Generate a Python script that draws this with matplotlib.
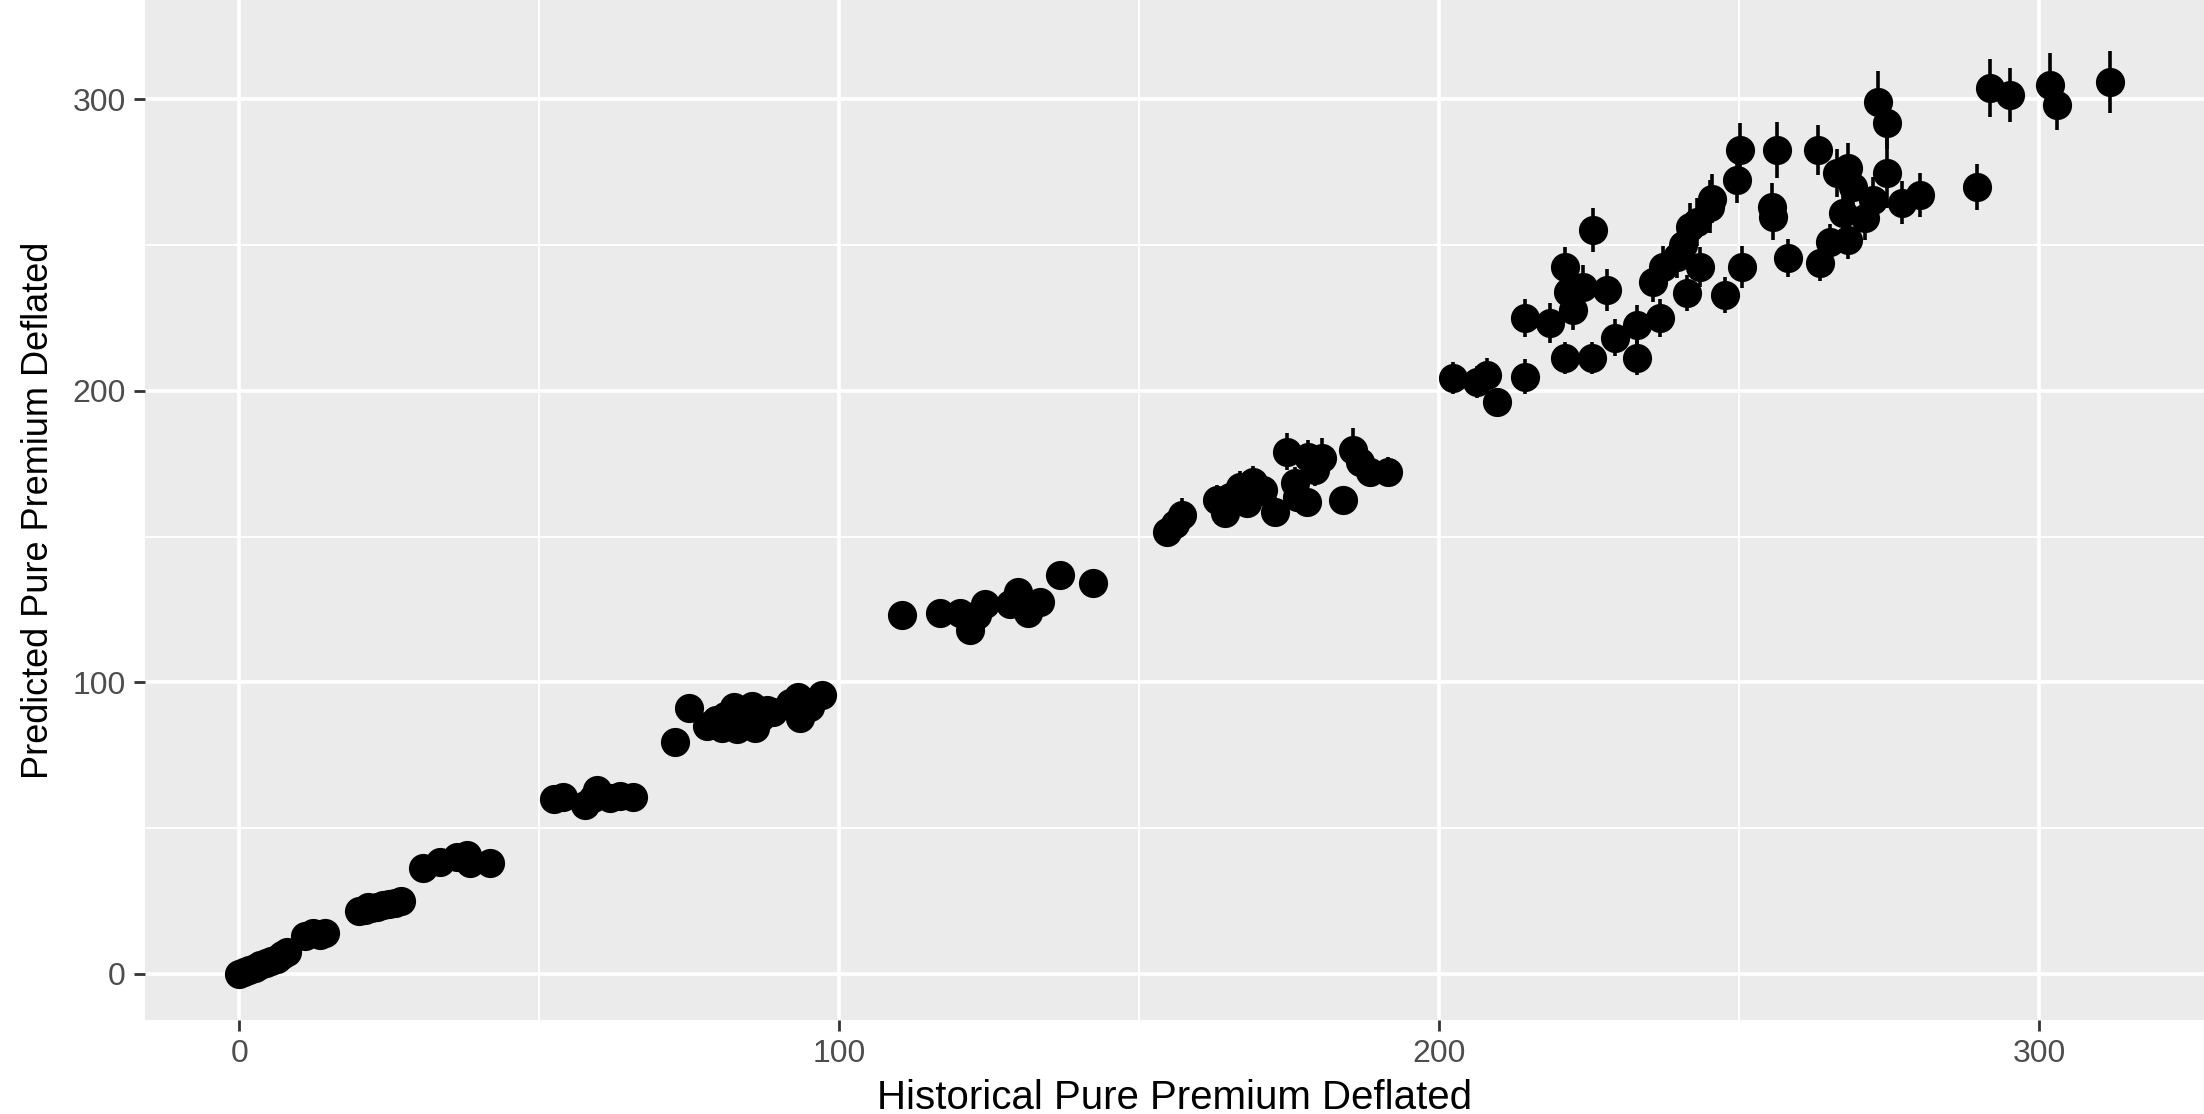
import matplotlib
matplotlib.use("Agg")
import matplotlib.pyplot as plt
from matplotlib.ticker import MultipleLocator

# Historical vs predicted pure premium (deflated), with prediction intervals
historical = [
    # 0-45
    0.0, 0.8, 1.7, 2.6, 3.5, 4.4, 5.3, 6.3, 7.2, 8.0,
    11.0, 12.3, 14.3, 13.5,
    20.0, 21.0, 22.0, 23.0, 24.0, 25.0, 26.0, 27.0, 21.5,
    30.7, 33.5, 36.3, 38.0, 38.5, 41.8,
    # 50-70
    52.4, 54.0, 57.7, 59.7, 59.0, 61.8, 63.5, 65.7,
    # 72-98
    72.7, 75.0, 78.0, 79.5, 80.5, 81.0, 82.0, 82.5, 83.0, 84.0, 85.0, 85.5,
    86.0, 87.0, 88.0, 89.0, 91.8, 93.2, 93.5, 95.2, 97.2,
    # 110-143
    110.5, 116.8, 120.2, 121.8, 123.0, 124.3, 128.5, 129.8, 131.5, 133.5,
    136.8, 142.3,
    # 154-192
    154.7, 156.0, 157.2, 163.0, 164.3, 165.2, 166.8, 168.0, 169.0, 170.7,
    172.7, 176.0, 176.3, 178.0, 174.7, 178.2, 180.5, 179.3, 185.7, 186.8,
    188.5, 191.5, 184.0,
    # 200-312
    202.3, 206.3, 208.0, 209.7, 214.3, 214.3, 218.5, 221.0, 225.5, 233.0,
    221.0, 222.3, 221.5, 224.0, 228.0, 225.7, 229.3, 233.0, 236.8, 235.7,
    237.3, 239.7, 240.7, 241.8, 243.0, 245.2, 245.5, 241.3, 243.5, 247.7,
    250.5, 249.7, 250.2, 256.3, 255.5, 255.7, 258.2, 263.2, 263.5, 273.2,
    274.7, 274.7, 266.3, 268.2, 269.0, 267.3, 271.0, 272.3, 277.2, 280.2,
    265.2, 268.2, 289.7, 291.8, 295.2, 301.8, 303.0, 311.8,
]

predicted = [
    0.0, 0.8, 1.4, 2.2, 3.0, 3.6, 4.3, 5.2, 6.5, 7.6,
    13.0, 14.0, 14.0, 13.2,
    21.5, 22.0, 22.5, 23.0, 23.5, 24.0, 24.5, 25.0, 23.0,
    36.4, 38.4, 40.1, 40.8, 38.0, 38.1,
    60.0, 60.7, 58.0, 63.1, 60.5, 60.4, 61.0, 60.7,
    79.6, 91.2, 85.0, 87.0, 84.5, 88.5, 86.0, 91.5, 84.0, 89.0, 86.5, 92.0,
    84.5, 88.0, 90.5, 90.0, 93.0, 95.0, 87.8, 91.6, 95.7,
    123.2, 123.8, 123.8, 118.0, 123.0, 127.0, 127.0, 131.0, 123.8, 127.6,
    136.9, 134.1,
    151.6, 154.5, 157.5, 162.6, 158.1, 163.6, 167.0, 161.6, 168.8, 166.0,
    158.5, 168.4, 163.6, 162.0, 179.1, 177.4, 177.0, 172.9, 179.8, 175.6,
    172.2, 172.2, 162.6,
    204.5, 203.1, 205.5, 196.2, 204.8, 225.0, 223.3, 211.3, 211.3, 211.3,
    242.5, 227.8, 234.0, 235.7, 234.6, 255.2, 218.2, 222.6, 225.0, 237.4,
    242.5, 246.0, 250.0, 256.3, 258.0, 263.2, 266.0, 233.6, 242.5, 232.9,
    242.5, 272.4, 282.7, 282.7, 263.2, 259.7, 245.6, 282.7, 243.9, 299.1,
    291.9, 274.8, 274.8, 276.5, 270.0, 261.0, 259.4, 265.5, 264.5, 267.2,
    251.1, 251.8, 270.0, 303.9, 301.5, 305.0, 298.1, 306.0,
]

# Half-width of the prediction interval for each point
interval = [
    0.5, 0.5, 0.6, 0.6, 0.7, 0.7, 0.8, 0.8, 0.9, 0.9,
    1.0, 1.1, 1.1, 1.0,
    1.4, 1.4, 1.5, 1.5, 1.5, 1.6, 1.6, 1.6, 1.5,
    2.0, 2.1, 2.2, 2.2, 2.1, 2.1,
    2.6, 2.6, 2.5, 2.8, 2.6, 2.6, 2.7, 2.6,
    3.0, 3.3, 3.1, 3.2, 3.1, 3.2, 3.1, 3.3, 3.1, 3.2, 3.1, 3.3,
    3.1, 3.2, 3.3, 3.3, 3.4, 3.4, 3.2, 3.4, 3.5,
    4.0, 4.0, 4.0, 3.9, 4.0, 4.1, 4.1, 4.2, 4.0, 4.1,
    4.3, 4.2,
    5.0, 5.2, 5.7, 5.0, 5.1, 5.3, 5.4, 5.2, 5.5, 5.4,
    5.1, 5.5, 5.3, 5.2, 6.3, 5.7, 6.9, 5.6, 7.4, 6.0,
    5.2, 5.2, 4.8,
    5.4, 5.5, 5.7, 4.5, 6.0, 6.6, 6.9, 5.4, 5.4, 6.0,
    6.9, 6.9, 7.0, 7.5, 7.2, 7.6, 6.3, 6.9, 6.6, 7.0,
    7.2, 7.4, 7.5, 8.0, 8.2, 9.0, 8.5, 6.3, 7.0, 6.3,
    7.2, 8.0, 9.2, 9.5, 8.0, 8.0, 6.6, 8.6, 6.3, 10.6,
    9.0, 12.0, 8.3, 8.6, 8.0, 8.0, 7.8, 8.0, 7.4, 7.7,
    6.3, 6.5, 8.0, 9.9, 9.3, 11.0, 8.6, 10.6,
]

x_ticks = [0, 100, 200, 300]
y_ticks = [0, 100, 200, 300]

plt.rcParams["font.family"] = ["Liberation Sans", "DejaVu Sans"]

fig = plt.figure(figsize=(22.04, 11.14), dpi=100, facecolor="white")
ax = fig.add_axes([0.0658, 0.0844, 0.9342, 0.9156])
ax.set_facecolor("#EBEBEB")

ax.errorbar(historical, predicted, yerr=interval, fmt="o", color="black",
            ecolor="black", elinewidth=2.6, capsize=0, markersize=21,
            markeredgewidth=0, zorder=3)

ax.set_xlim(-15.7, 327.5)
ax.set_ylim(-15.8, 334.1)
ax.set_xticks(x_ticks)
ax.set_yticks(y_ticks)
ax.xaxis.set_minor_locator(MultipleLocator(50))
ax.yaxis.set_minor_locator(MultipleLocator(50))

ax.grid(which="major", color="white", linewidth=2.6, zorder=0)
ax.grid(which="minor", color="white", linewidth=1.3, zorder=0)
ax.set_axisbelow(True)
for side in ax.spines.values():
    side.set_visible(False)

ax.tick_params(axis="both", which="major", length=8, width=2, color="#333333",
               labelcolor="#4D4D4D", labelsize=23, pad=6)
ax.tick_params(axis="both", which="minor", length=0)

ax.set_xlabel("Historical Pure Premium Deflated", fontsize=29, color="black",
              labelpad=7)
ax.set_ylabel("Predicted Pure Premium Deflated", fontsize=26, color="black",
              labelpad=12)

fig.savefig("out.png", dpi=100, facecolor="white")
